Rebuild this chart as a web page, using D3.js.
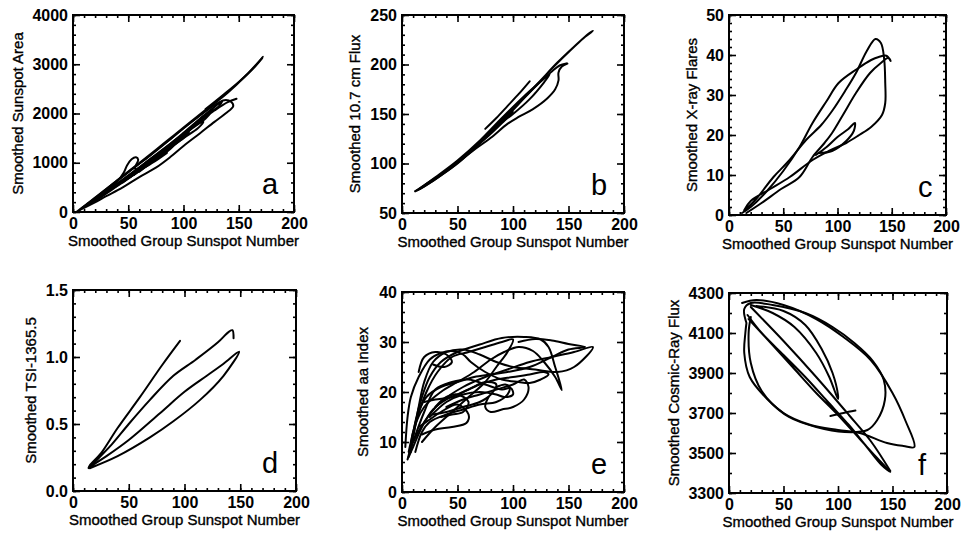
<!DOCTYPE html>
<html>
<head>
<meta charset="utf-8">
<script src="https://cdn.jsdelivr.net/npm/d3@7"></script>
<style>
  body { margin: 0; background: #fff; }
  text { font-family: "Liberation Sans", Arial, Helvetica, sans-serif; fill: #000; }
</style>
</head>
<body>
<script>
// Shared x axis (smoothed group sunspot number)
const xTitle = "Smoothed Group Sunspot Number";
const xTicks = [0, 50, 100, 150, 200];

// Panel a: sunspot area
const aTicks = [0, 1000, 2000, 3000, 4000];
const aCurves = [
  [[3,0],[12,150],[25,380],[40,640],[55,900],[70,1150],[85,1420],[100,1700],[115,1960],[128,2170],[137,2270],[143,2240],[145,2150],[138,2000],[128,1830],[115,1600],[100,1340],[88,1115],[75,900],[60,710],[45,500],[30,320],[15,140],[5,30]],
  [[6,40],[20,280],[40,630],[60,980],[80,1340],[100,1700],[120,2060],[140,2420],[156,2760],[172,3150],[158,2800],[142,2470],[122,2110],[102,1750],[82,1390],[62,1030],[42,680],[22,320],[8,80]],
  [[30,430],[40,620],[46,800],[49,950],[53,1070],[57,1110],[59,1060],[57,950],[56,880],[62,880],[72,1000],[85,1200]],
  [[100,1600],[115,1850],[128,2060],[140,2230],[148,2300]],
  [[45,600],[60,850],[75,1120],[90,1400],[105,1680],[118,1950],[124,2010],[120,1900],[108,1700],[95,1450],[80,1170],[65,920],[50,690]],
  [[55,750],[70,1020],[85,1300],[98,1550],[105,1620],[100,1500],[88,1300],[75,1080],[60,820]],
  [[20,220],[35,450],[55,760],[75,1100],[95,1450],[112,1780],[118,1830],[113,1700],[100,1500],[85,1260],[68,980],[50,680],[30,380]],
  [[10,100],[30,420],[50,740],[70,1080],[90,1420],[108,1760],[125,2080],[135,2250],[132,2150],[120,1950],[105,1680],[90,1400],[70,1050],[50,720],[30,400]],
  [[40,560],[55,820],[70,1070],[85,1330],[95,1500],[92,1400],[80,1200],[65,960],[50,730]],
  [[15,160],[30,390],[48,660],[65,930],[82,1230],[92,1380],[88,1280],[75,1060],[58,800],[40,540],[22,260]],
  [[120,2090],[135,2360],[150,2640],[165,2960],[171,3120]]
];

// Panel b: 10.7 cm flux
const bTicks = [50, 100, 150, 200, 250];
const bCurves = [
  [[12,72],[20,77],[35,88],[50,100],[65,115],[80,131],[95,148],[110,166],[125,184],[140,202],[155,218],[165,228],[172,234],[168,231],[158,221],[145,207],[130,190],[115,172],[100,154],[85,137],[70,121],[55,106],[40,93],[25,81],[14,73]],
  [[149,201],[144,198],[141,192],[141,184],[138,175],[131,166],[118,155],[105,147],[95,140],[80,126],[64,113],[50,101],[35,89],[20,78],[12,72]],
  [[14,73],[30,86],[50,103],[70,123],[90,146],[110,168],[125,183],[135,193],[142,199],[148,201]],
  [[75,135],[85,146],[95,158],[105,170],[115,183]],
  [[70,122],[85,139],[100,155],[115,172],[128,186],[133,190],[128,182],[115,165],[100,150],[88,140],[75,127]],
  [[16,74],[30,84],[45,96],[60,110],[80,132],[95,150],[100,152],[92,143],[78,128],[60,111],[40,93],[22,79]]
];

// Panel c: x-ray flares
const cTicks = [0, 10, 20, 30, 40, 50];
const cCurves = [
  [[14,1],[25,4],[41,9.5],[55,13.5],[71,18.75],[85,22.5],[95,26],[107,31],[117,35.5],[127,41],[135,44],[140,43],[143,39],[144,33],[144,28],[141,25],[131,22],[120,20],[108,18],[92,16],[77,13.75],[56,9.5],[38,6.5],[20,3.5],[14,1.2]],
  [[16,0.5],[30,3],[48,6.5],[65,9.5],[77,14.5],[88,18],[95,20.5],[105,25],[117,30.5],[130,35.5],[140,38],[147,39.3],[149,38.5],[145,39.8],[138,39.5],[131,38.75],[118,36.5],[101,33],[90,28.5],[77,23],[65,17],[50,11],[35,6],[20,2],[12,0.5]],
  [[80,15],[90,17],[100,19.5],[110,21.5],[116,23],[115,21],[108,18.5],[95,16],[83,15.5]]
];

// Panel d: TSI - 1365.5
const dTicks = [0.0, 0.5, 1.0, 1.5];
const dCurves = [
  [[96,1.12],[80,0.94],[60,0.70],[40,0.47],[25,0.28],[15,0.19],[14,0.17],[20,0.22],[35,0.35],[50,0.50],[69,0.68],[90,0.86],[110,0.98],[130,1.11],[140,1.19],[143,1.2],[144,1.14]],
  [[15,0.17],[40,0.26],[69,0.40],[90,0.52],[114,0.68],[135,0.86],[149,1.04],[135,0.95],[120,0.86],[100,0.74],[78,0.58],[50,0.38],[30,0.26],[15,0.18]]
];

// Panel e: aa index
const eTicks = [0, 10, 20, 30, 40];
const eCurves = [
  [[5,6.5],[10,11],[15,17],[20,22],[28,26],[40,28],[55,28.5],[70,27.5],[85,26],[100,25],[120,24.5],[140,24],[155,25],[172,29],[155,28],[135,27],[115,26],[95,24.5],[75,23],[55,21],[35,18],[20,14],[10,10],[5,6.5]],
  [[8,8],[12,14],[18,19],[25,23],[35,26],[50,28],[70,29.5],[90,30.8],[110,31],[125,30.5],[132,29],[138,25],[144,20.4],[138,23],[128,26],[118,28.2],[105,29],[92,28],[80,26.5],[65,24],[50,22],[35,20],[20,17],[10,12],[8,8]],
  [[3,9],[5,15],[8,19],[15,23],[25,26.5],[35,27.8],[45,28.2],[55,27.5],[62,26],[75,24],[90,22.5],[105,22],[115,21.8],[125,22.5],[132,23.5],[128,24],[115,23.5],[100,23],[85,22.5],[70,21.5],[55,20],[40,18.5],[28,16.5],[18,13],[10,9],[6,7]],
  [[6,8],[10,12],[15,16],[22,19],[35,21],[50,22],[65,23],[80,23.5],[95,24],[115,25],[135,27],[150,28.5],[165,29],[150,29.6],[135,30.3],[120,30.6],[105,30]],
  [[40,17],[55,18.5],[70,19.5],[85,20.5],[100,21.5],[110,22.5],[114,21],[110,18.5],[100,17],[90,16.5],[80,16],[75,17],[78,19]],
  [[15,13],[25,14.5],[35,16],[50,17.5],[60,15.5],[58,13.8],[45,13],[30,12.5],[18,11.5]],
  [[10,10],[20,16],[30,20.5],[45,22],[60,22.5],[75,21.5],[90,20.5],[98,20.8],[100,19.5],[92,19],[85,19.5],[70,20],[55,19.5],[40,18],[25,15]],
  [[12,8],[18,12],[25,14],[40,15.5],[55,16.5],[70,17.5],[85,18],[95,19.5],[97,21],[93,21.5],[85,21]],
  [[8,9],[14,15],[22,20],[32,24],[45,27],[60,28],[75,29],[90,30],[100,30.5],[95,28],[85,25],[75,22],[60,19],[45,16],[30,13],[18,10]],
  [[20,18],[30,18.5],[45,19],[60,20.5],[75,22],[85,21.5],[80,19.5],[70,18],[55,17],[40,16],[28,15.5]],
  [[15,24],[20,27],[30,28],[40,27.5],[45,26],[38,25],[28,25.5]],
  [[30,17],[40,19],[50,19.5],[60,18],[55,16],[45,15.5],[35,15]]
];

// Panel f: cosmic-ray flux
const fTicks = [3300, 3500, 3700, 3900, 4100, 4300];
const fCurves = [
  [[16,4150],[14,4220],[20,4250],[40,4240],[70,4200],[95,4130],[115,4050],[132,3960],[142,3865],[143,3765],[136,3665],[127,3615],[106,3605],[80,3630],[55,3680],[35,3770],[19,3880],[14,4000],[15,4100],[16,4150]],
  [[12,4250],[25,4265],[50,4240],[80,4170],[105,4080],[130,3965],[150,3800],[162,3660],[170,3530],[160,3535],[145,3550],[120,3600],[100,3615],[75,3640],[50,3700],[30,3810],[20,3950],[18,4100],[20,4180]],
  [[18,4170],[40,4040],[60,3920],[80,3800],[100,3690],[120,3570],[135,3480],[148,3405],[140,3440],[125,3540],[110,3640],[90,3760],[70,3880],[50,3990],[30,4100],[17,4190]],
  [[20,4240],[40,4200],[60,4130],[80,4000],[92,3880],[100,3770],[100,3790],[95,3900],[85,4020],[70,4140],[50,4210],[25,4235]],
  [[93,3685],[105,3700],[116,3712]],
  [[20,4230],[50,4060],[80,3880],[110,3690],[130,3560],[148,3410]]
];

const panels = [
  { letter: "a", title: "Smoothed Sunspot Area", ticks: aTicks, minor: 200, curves: aCurves, box: { l: 73, r: 294, t: 15, b: 212 }, titleX: 18 },
  { letter: "b", title: "Smoothed 10.7 cm Flux", ticks: bTicks, minor: 10, curves: bCurves, box: { l: 402, r: 624, t: 15, b: 213 }, titleX: 355 },
  { letter: "c", title: "Smoothed X-ray Flares", ticks: cTicks, minor: 2, curves: cCurves, box: { l: 729, r: 946, t: 15, b: 215 }, titleX: 692 },
  { letter: "d", title: "Smoothed TSI-1365.5", ticks: dTicks, minor: 0.1, curves: dCurves, box: { l: 73, r: 296, t: 290, b: 491 }, titleX: 31, fmt: d3.format(".1f") },
  { letter: "e", title: "Smoothed aa Index", ticks: eTicks, minor: 2, curves: eCurves, box: { l: 402, r: 624, t: 292, b: 492 }, titleX: 363 },
  { letter: "f", title: "Smoothed Cosmic-Ray Flux", ticks: fTicks, minor: 100, curves: fCurves, box: { l: 729, r: 947, t: 293, b: 493 }, titleX: 674 }
];

const svg = d3.select("body").append("svg")
  .attr("width", 962)
  .attr("height", 534);

function styleAxis(g, labels) {
  g.select(".domain").remove();
  g.selectAll(".tick line").attr("stroke", "#000").attr("stroke-width", 1.6);
  if (labels) {
    g.selectAll(".tick text")
      .attr("font-size", "16px")
      .attr("font-weight", "bold")
      .attr("font-family", "'Liberation Sans', Arial, sans-serif");
  }
}

panels.forEach((p) => {
  const { l, r, t, b } = p.box;
  const x = d3.scaleLinear().domain([0, 200]).range([l, r]);
  const y = d3.scaleLinear().domain([p.ticks[0], p.ticks[p.ticks.length - 1]]).range([b, t]);
  const g = svg.append("g");

  const yMinor = d3.range(p.ticks[0], p.ticks[p.ticks.length - 1] + p.minor / 2, p.minor);
  const xMinor = d3.range(0, 201, 10);

  // minor ticks on all four sides, pointing inward
  g.append("g").attr("transform", `translate(0,${b})`)
    .call(d3.axisBottom(x).tickValues(xMinor).tickSizeInner(-3).tickSizeOuter(0).tickFormat(""))
    .call((s) => styleAxis(s, false));
  g.append("g").attr("transform", `translate(0,${t})`)
    .call(d3.axisTop(x).tickValues(xMinor).tickSizeInner(-3).tickSizeOuter(0).tickFormat(""))
    .call((s) => styleAxis(s, false));
  g.append("g").attr("transform", `translate(${l},0)`)
    .call(d3.axisLeft(y).tickValues(yMinor).tickSizeInner(-3).tickSizeOuter(0).tickFormat(""))
    .call((s) => styleAxis(s, false));
  g.append("g").attr("transform", `translate(${r},0)`)
    .call(d3.axisRight(y).tickValues(yMinor).tickSizeInner(-3).tickSizeOuter(0).tickFormat(""))
    .call((s) => styleAxis(s, false));

  // major ticks
  g.append("g").attr("transform", `translate(0,${b})`)
    .call(d3.axisBottom(x).tickValues(xTicks).tickSizeInner(-7).tickSizeOuter(0).tickPadding(6))
    .call((s) => styleAxis(s, true));
  g.append("g").attr("transform", `translate(0,${t})`)
    .call(d3.axisTop(x).tickValues(xTicks).tickSizeInner(-7).tickSizeOuter(0).tickFormat(""))
    .call((s) => styleAxis(s, false));
  g.append("g").attr("transform", `translate(${l},0)`)
    .call(d3.axisLeft(y).tickValues(p.ticks).tickSizeInner(-7).tickSizeOuter(0).tickPadding(5)
      .tickFormat(p.fmt || d3.format("d")))
    .call((s) => styleAxis(s, true));
  g.append("g").attr("transform", `translate(${r},0)`)
    .call(d3.axisRight(y).tickValues(p.ticks).tickSizeInner(-7).tickSizeOuter(0).tickFormat(""))
    .call((s) => styleAxis(s, false));

  // frame
  g.append("rect")
    .attr("x", l).attr("y", t)
    .attr("width", r - l).attr("height", b - t)
    .attr("fill", "none")
    .attr("stroke", "#000")
    .attr("stroke-width", 2);

  // trajectories
  const line = d3.line()
    .x((d) => x(d[0]))
    .y((d) => y(d[1]))
    .curve(d3.curveCatmullRom.alpha(0.5));

  g.selectAll(".traj")
    .data(p.curves)
    .enter()
    .append("path")
    .attr("class", "traj")
    .attr("d", line)
    .attr("fill", "none")
    .attr("stroke", "#000")
    .attr("stroke-width", 2)
    .attr("stroke-linejoin", "round")
    .attr("stroke-linecap", "round");

  // axis titles
  g.append("text")
    .attr("x", (l + r) / 2)
    .attr("y", b + 34)
    .attr("text-anchor", "middle")
    .attr("font-size", "15px")
    .attr("stroke", "#000")
    .attr("stroke-width", 0.35)
    .text(xTitle);

  g.append("text")
    .attr("transform", `translate(${p.titleX},${(t + b) / 2}) rotate(-90)`)
    .attr("dy", "0.35em")
    .attr("text-anchor", "middle")
    .attr("font-size", "15px")
    .attr("stroke", "#000")
    .attr("stroke-width", 0.35)
    .text(p.title);

  // panel letter
  g.append("text")
    .attr("x", l + 189)
    .attr("y", b - 18)
    .attr("font-size", "29px")
    .text(p.letter);
});
</script>
</body>
</html>
